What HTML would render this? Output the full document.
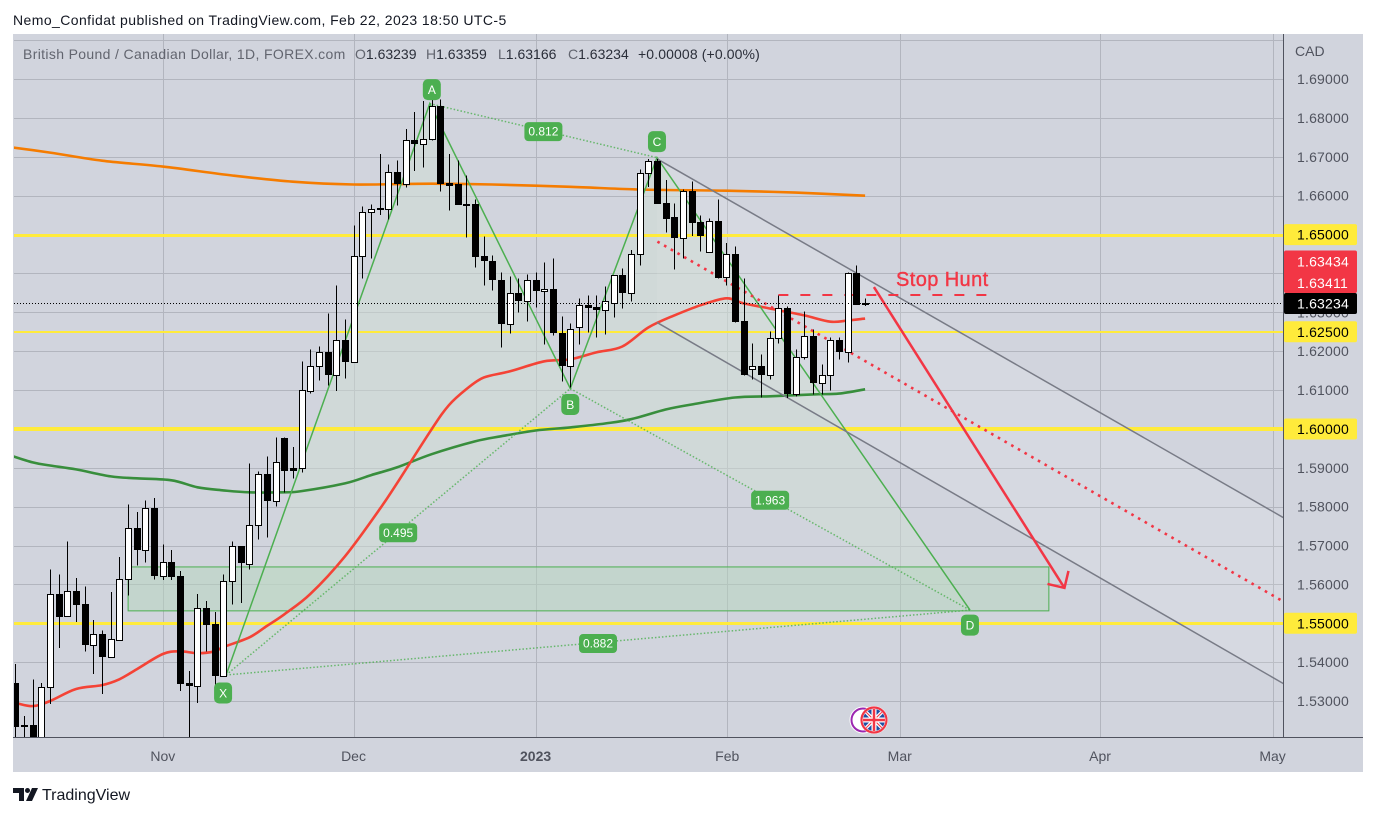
<!DOCTYPE html>
<html lang="en">
<head>
<meta charset="utf-8">
<title>GBPCAD chart</title>
<style>
html,body{margin:0;padding:0;background:#fff;width:1376px;height:816px;overflow:hidden}
svg{display:block;font-family:"Liberation Sans",sans-serif}
</style>
</head>
<body>
<svg id="c" xmlns="http://www.w3.org/2000/svg" width="1376" height="816" viewBox="0 0 1376 816">
  <defs>
    <clipPath id="pane"><rect x="14" y="34" width="1270" height="703"/></clipPath>
    <clipPath id="flagclip"><circle cx="874" cy="720" r="11"/></clipPath>
  </defs>
  <rect x="13" y="34" width="1350" height="738" fill="#d1d4dd"/>
  <text x="13" y="25" font-size="14" fill="#131722" letter-spacing="0.42">Nemo_Confidat published on TradingView.com, Feb 22, 2023 18:50 UTC-5</text>
  <g id="grid"></g>
  <g id="plot" clip-path="url(#pane)"></g>
  <g id="axes"></g>
  <g font-size="14">
    <text x="23" y="59" fill="#62656f" letter-spacing="0.35">British Pound / Canadian Dollar, 1D, FOREX.com</text>
    <text x="355" y="59" fill="#62656f">O<tspan fill="#2a2e39">1.63239</tspan></text>
    <text x="426" y="59" fill="#62656f">H<tspan fill="#2a2e39">1.63359</tspan></text>
    <text x="498" y="59" fill="#62656f">L<tspan fill="#2a2e39">1.63166</tspan></text>
    <text x="568" y="59" fill="#62656f">C<tspan fill="#2a2e39">1.63234</tspan></text>
    <text x="638" y="59" fill="#2a2e39" letter-spacing="0.12">+0.00008 (+0.00%)</text>
  </g>
  <g>
    <circle cx="863" cy="720" r="12.5" fill="#fff" stroke="#fff" stroke-width="2"/>
    <circle cx="863" cy="720" r="11.5" fill="#fff" stroke="#9c27b0" stroke-width="2"/>
    <circle cx="874" cy="720" r="14" fill="#fff"/>
    <g clip-path="url(#flagclip)">
      <rect x="862" y="708" width="24" height="24" fill="#1f4fa3"/>
      <path d="M863 709L885 731M885 709L863 731" stroke="#fff" stroke-width="3.5"/>
      <path d="M863 709L885 731M885 709L863 731" stroke="#f23645" stroke-width="1"/>
      <path d="M874 708V732M862 720H886" stroke="#fff" stroke-width="5"/>
      <path d="M874 708V732M862 720H886" stroke="#f23645" stroke-width="2.5"/>
    </g>
    <circle cx="874" cy="720" r="12.5" fill="none" stroke="#f23645" stroke-width="2.2"/>
  </g>
  <g>
    <path d="M13 788H24V801H19V793H13Z" fill="#131722"/>
    <circle cx="27.5" cy="790.5" r="2.5" fill="#131722"/>
    <path d="M32 788H38L32 801H26Z" fill="#131722"/>
    <text x="42" y="800" font-size="16" fill="#131722">TradingView</text>
  </g>
</svg>
<script>
// ---- candle data (prices, one entry per daily bar)
const opens=[1.5346,1.5238,1.5238,1.5151,1.5336,1.5575,1.5518,1.5583,1.5549,1.5444,
1.5472,1.5413,1.5457,1.5613,1.5744,1.5688,1.5796,1.5621,1.5657,1.5621,
1.5346,1.5338,1.5539,1.5498,1.5364,1.5608,1.5698,1.5652,1.5752,1.5883,
1.5814,1.5978,1.5899,1.5899,1.6097,1.6161,1.6199,1.6138,1.623,1.6171,
1.6446,1.6557,1.6569,1.6567,1.6662,1.6631,1.6744,1.6734,1.6747,1.6832,
1.6634,1.6629,1.658,1.658,1.6446,1.6433,1.6384,1.6271,1.6351,1.633,
1.6384,1.6354,1.6361,1.6248,1.6161,1.6261,1.6318,1.6315,1.6307,1.6325,
1.6395,1.6351,1.6451,1.6659,1.669,1.6582,1.6544,1.6492,1.6611,1.6533,
1.6456,1.6536,1.6392,1.6449,1.6279,1.6153,1.6163,1.614,1.6233,1.6312,
1.6091,1.6186,1.6238,1.6117,1.6138,1.6228,1.6199,1.64,1.63239];
const highs=[1.5395,1.5261,1.5356,1.5346,1.5639,1.5626,1.5711,1.5616,1.5595,1.5508,
1.5482,1.558,1.567,1.5806,1.5786,1.5816,1.5822,1.5703,1.5688,1.5634,
1.5377,1.5575,1.5557,1.5529,1.5626,1.5711,1.5698,1.5911,1.5891,1.5929,
1.5978,1.5978,1.5953,1.6174,1.6204,1.6212,1.6297,1.6369,1.6282,1.6523,
1.6572,1.6577,1.6708,1.668,1.669,1.6772,1.6816,1.6844,1.6852,1.6847,
1.6708,1.669,1.6652,1.659,1.6495,1.6446,1.6402,1.6392,1.6387,1.6397,
1.6402,1.6428,1.6438,1.6289,1.6271,1.6336,1.6343,1.6343,1.6366,1.6395,
1.6413,1.6461,1.6667,1.6695,1.6695,1.6641,1.658,1.6616,1.6636,1.6549,
1.6541,1.659,1.6479,1.6469,1.6387,1.622,1.6192,1.6251,1.6343,1.6315,
1.6204,1.6302,1.6256,1.6166,1.6235,1.6235,1.6402,1.642,1.63359];
const lows=[1.5189,1.5189,1.5125,1.5125,1.5292,1.5436,1.5518,1.5503,1.5428,1.5369,
1.5318,1.5413,1.5454,1.5572,1.5649,1.5657,1.5613,1.5611,1.5611,1.5326,
1.5189,1.5295,1.5428,1.5313,1.5364,1.5549,1.5552,1.5639,1.5716,1.5721,
1.5801,1.5837,1.5873,1.5888,1.6091,1.6125,1.6112,1.6097,1.613,1.6171,
1.6387,1.6438,1.6551,1.6539,1.6575,1.6621,1.6664,1.6672,1.6742,1.6611,
1.6562,1.6577,1.6492,1.6415,1.6369,1.6356,1.621,1.6246,1.63,1.6276,
1.6312,1.6217,1.624,1.6122,1.6107,1.6217,1.6248,1.6235,1.6243,1.6287,
1.631,1.6328,1.642,1.6623,1.658,1.6505,1.641,1.6438,1.6497,1.6456,
1.6456,1.6387,1.6369,1.6274,1.6138,1.6127,1.6081,1.6127,1.622,1.6079,
1.6084,1.6179,1.6089,1.6089,1.6099,1.6179,1.6171,1.632,1.63166];
const closes=[1.5233,1.5233,1.5151,1.5336,1.5575,1.5516,1.5583,1.5547,1.5444,1.5472,
1.5413,1.5459,1.5613,1.5744,1.5688,1.5796,1.5621,1.5657,1.5618,1.5343,
1.5338,1.5539,1.5495,1.5364,1.5608,1.5698,1.5654,1.5752,1.5883,1.5814,
1.5914,1.5893,1.5893,1.6099,1.6161,1.6199,1.6138,1.623,1.6171,1.6446,
1.6557,1.6567,1.6564,1.6662,1.6631,1.6744,1.6734,1.6747,1.6832,1.6631,
1.6626,1.6577,1.6577,1.6443,1.6431,1.6382,1.6271,1.6351,1.633,1.6384,
1.6354,1.6361,1.6246,1.6161,1.6258,1.6318,1.6312,1.6307,1.6328,1.6395,
1.6351,1.6451,1.6659,1.669,1.658,1.6541,1.649,1.6611,1.6531,1.6497,
1.6536,1.6389,1.6449,1.6276,1.6138,1.6163,1.614,1.6233,1.6312,1.6091,
1.6186,1.6238,1.6117,1.6138,1.6228,1.6197,1.64,1.632,1.63234];

// ---- moving averages (sampled bars and prices)
const orangeBars=[-1,4,10,17,25,32,39,48,55,64,72,82,90,98];
const orangeValues=[1.6726,1.6711,1.669,1.6675,1.6652,1.6636,1.6629,1.6631,1.6629,1.6623,1.6616,1.6613,1.6608,1.66];
const greenBars=[-1,2,4,7,11,14,18,21,24,27,31,33,38,41,44,48,53,56,60,64,68,71,75,78,83,87,92,95,98];
const greenValues=[1.5935,1.5914,1.5906,1.5896,1.5878,1.5873,1.5868,1.585,1.5842,1.5837,1.5837,1.584,1.586,1.5881,1.5901,1.5935,1.5968,1.5981,1.5996,1.6004,1.6014,1.6025,1.605,1.6063,1.6081,1.6084,1.6089,1.6091,1.6102];
const redBars=[-1,0,2,4,7,10,12,14,17,19,21,23,24,27,29,31,34,38,42,44,48,50,52,54,57,61,64,67,70,73,76,79,82,84,87,91,94,96,98];
const redValues=[1.5297,1.5295,1.5287,1.53,1.5331,1.5341,1.5356,1.5382,1.5421,1.5428,1.5423,1.5428,1.5439,1.5464,1.5493,1.5523,1.5575,1.5672,1.5793,1.586,1.5999,1.6061,1.6102,1.6132,1.6148,1.6174,1.6179,1.6197,1.6212,1.6261,1.6292,1.6318,1.6336,1.6323,1.631,1.6292,1.6276,1.6279,1.6284];

// ---- axes
const priceTicks=[1.70,1.69,1.68,1.67,1.66,1.65,1.64,1.63,1.62,1.61,1.60,1.59,1.58,1.57,1.56,1.55,1.54,1.53,1.52];
const priceTickLabels=['','1.69000','1.68000','1.67000','1.66000','','','1.63000','1.62000','1.61000','','1.59000','1.58000','1.57000','1.56000','','1.54000','1.53000',''];
const timeTickBars=[17,39,60,82.1,102,125.1,145];
const timeTickLabels=['Nov','Dec','2023','Feb','Mar','Apr','May'];

// ---- horizontal levels
const levelPrices=[1.65,1.625,1.60,1.55];
const levelWidths=[3,2,4,3];
const levelLabels=['1.65000','1.62500','1.60000','1.55000'];

// ---- harmonic XABCD pattern (bar, price)
const patternLetters=['X','A','B','C','D'];
const patternBars=[24.3,47.8,64,74,110.1];
const patternPrices=[1.5367,1.6837,1.6104,1.6698,1.5534];
const ratioLabels=['0.812','0.495','1.963','0.882'];
const ratioFrom=[1,0,2,0];
const ratioTo=[3,2,4,4];

// ---- other drawings (bar, price)
const zoneBars=[13,119.2];
const zonePrices=[1.5645,1.5532];
const channelBars=[74,146.4];
const channelUpper=[1.6695,1.577];
const channelLower=[1.6274,1.5343];
const trendBars=[74.05,146.4];
const trendPrices=[1.6482,1.5554];
const stopBars=[88,112.3];
const stopPrice=1.63434;
const arrowBars=[99,121];
const arrowPrices=[1.6365,1.5591];
const lastPrice=1.63234;
const priceTags=[1.63434,1.63411];
const priceTagLabels=['1.63434','1.63411'];

const xOf=b=>15.4+8.67*b;
const yOf=p=>234.6+(1.65-p)*3887;
const NS='http://www.w3.org/2000/svg';
function mk(tag,attrs,parent){
  const el=document.createElementNS(NS,tag);
  for(const k in attrs)el.setAttribute(k,attrs[k]);
  parent.appendChild(el);
  return el;
}
function poly(b,v){return b.map((d,i)=>xOf(d).toFixed(1)+','+yOf(v[i]).toFixed(1)).join(' ');}
function smooth(b,v){
  const P=b.map((d,i)=>[xOf(d),yOf(v[i])]);
  let s='M'+P[0][0].toFixed(1)+' '+P[0][1].toFixed(1);
  for(let i=0;i<P.length-1;i++){
    const p0=P[Math.max(i-1,0)],p1=P[i],p2=P[i+1],p3=P[Math.min(i+2,P.length-1)];
    const c1x=p1[0]+(p2[0]-p0[0])/6,c1y=p1[1]+(p2[1]-p0[1])/6;
    const c2x=p2[0]-(p3[0]-p1[0])/6,c2y=p2[1]-(p3[1]-p1[1])/6;
    s+='C'+c1x.toFixed(1)+' '+c1y.toFixed(1)+' '+c2x.toFixed(1)+' '+c2y.toFixed(1)+' '+p2[0].toFixed(1)+' '+p2[1].toFixed(1);
  }
  return s;
}
const grid=document.getElementById('grid'),plot=document.getElementById('plot'),axes=document.getElementById('axes');
const GRID='#b2b5be',GREEN='#4caf50',RED='#f23645',YEL='#ffeb3b';
let el;

// grid
priceTicks.forEach(p=>{
  const y=Math.round(yOf(p))+0.5;
  if(y<34||y>737)return;
  el=mk('line',{x1:14,x2:1284,y1:y,y2:y,stroke:GRID,'stroke-width':1},grid);
  
  
});
timeTickBars.forEach(b=>{
  const x=Math.round(xOf(b))+0.5;
  el=mk('line',{x1:x,x2:x,y1:34,y2:737,stroke:GRID,'stroke-width':1},grid);
  
  
});

// channel fill
el=mk('polygon',{points:poly([channelBars[0],channelBars[1],channelBars[1],channelBars[0]],[channelUpper[0],channelUpper[1],channelLower[1],channelLower[0]]),fill:'#ffffff','fill-opacity':0.12},plot);



// pattern fills
el=mk('polygon',{points:poly(patternBars.slice(0,3),patternPrices.slice(0,3)),fill:'#cfded3','fill-opacity':0.5},plot);


el=mk('polygon',{points:poly(patternBars.slice(2,5),patternPrices.slice(2,5)),fill:'#cfded3','fill-opacity':0.5},plot);



// zone
el=mk('rect',{x:xOf(zoneBars[0]),y:yOf(zonePrices[0]),width:xOf(zoneBars[1])-xOf(zoneBars[0]),height:yOf(zonePrices[1])-yOf(zonePrices[0]),fill:'#b5d6bd','fill-opacity':0.5,stroke:GREEN,'stroke-width':1},plot);



// levels
levelPrices.forEach((p,i)=>{
  const w=levelWidths[i],y=Math.round(yOf(p))+(w%2?0.5:0);
  el=mk('line',{x1:14,x2:1284,y1:y,y2:y,stroke:YEL,'stroke-width':w},plot);
  
  
});

// moving averages
el=mk('path',{d:smooth(orangeBars,orangeValues),fill:'none',stroke:'#f57c00','stroke-width':2.6},plot);


el=mk('path',{d:smooth(greenBars,greenValues),fill:'none',stroke:'#388e3c','stroke-width':2.6},plot);


el=mk('path',{d:smooth(redBars,redValues),fill:'none',stroke:'#f44336','stroke-width':2.6},plot);



// pattern legs
el=mk('polyline',{points:poly(patternBars,patternPrices),fill:'none',stroke:GREEN,'stroke-width':1.5},plot);


ratioFrom.forEach((a,i)=>{
  const b=ratioTo[i];
  el=mk('line',{x1:xOf(patternBars[a]),y1:yOf(patternPrices[a]),x2:xOf(patternBars[b]),y2:yOf(patternPrices[b]),stroke:GREEN,'stroke-width':1.5,'stroke-dasharray':'1.5 2','stroke-opacity':0.8},plot);
  
  
});

// channel lines
el=mk('line',{x1:xOf(channelBars[0]),y1:yOf(channelUpper[0]),x2:xOf(channelBars[1]),y2:yOf(channelUpper[1]),stroke:'#787b86','stroke-width':1.5},plot);


el=mk('line',{x1:xOf(channelBars[0]),y1:yOf(channelLower[0]),x2:xOf(channelBars[1]),y2:yOf(channelLower[1]),stroke:'#787b86','stroke-width':1.5},plot);



// red dotted trend
el=mk('line',{x1:xOf(trendBars[0]),y1:yOf(trendPrices[0]),x2:xOf(trendBars[1]),y2:yOf(trendPrices[1]),stroke:RED,'stroke-width':2.6,'stroke-dasharray':'2.6 5.1'},plot);



// stop hunt dashed
el=mk('line',{x1:xOf(stopBars[0]),y1:Math.round(yOf(stopPrice)),x2:xOf(stopBars[1]),y2:Math.round(yOf(stopPrice)),stroke:RED,'stroke-width':2,'stroke-dasharray':'10 12'},plot);



// arrow
el=mk('line',{x1:xOf(arrowBars[0])+0.2,y1:yOf(arrowPrices[0]),x2:xOf(arrowBars[1]),y2:yOf(arrowPrices[1]),stroke:RED,'stroke-width':2.5},plot);


{
  const tx=xOf(arrowBars[1]),ty=yOf(arrowPrices[1]);
  el=mk('polyline',{points:(tx-17)+','+(ty-4)+' '+tx+','+ty+' '+(tx+4)+','+(ty-17),fill:'none',stroke:RED,'stroke-width':2.5},plot);
  
  
}

// candles
closes.forEach((c,i)=>{
  const o=opens[i],cx=Math.round(xOf(i)),up=c>=o;
  const top=Math.round(yOf(Math.max(o,c))),bot=Math.round(yOf(Math.min(o,c)));
  const g=mk('g',{},plot);
  
  
  el=mk('rect',{x:cx,y:yOf(highs[i]),width:1,height:yOf(lows[i])-yOf(highs[i]),fill:'#000','shape-rendering':'crispEdges'},g);
  
  
  if(up){
    el=mk('rect',{x:cx-2.5,y:top+0.5,width:6,height:Math.max(bot-top,1),fill:'#fff',stroke:'#000','stroke-width':1,'shape-rendering':'crispEdges'},g);
  }else{
    el=mk('rect',{x:cx-3,y:top,width:7,height:Math.max(bot-top,2),fill:'#000','shape-rendering':'crispEdges'},g);
  }
  
  
});

// last price dotted line
el=mk('line',{x1:14,x2:1284,y1:Math.round(yOf(lastPrice))+0.5,y2:Math.round(yOf(lastPrice))+0.5,stroke:'#000','stroke-width':1,'stroke-dasharray':'1 2'},plot);



// badges
const letterDX=[-3,2,0,0,0],letterDY=[18,-14,16,-16,15];
patternLetters.forEach((t,i)=>{
  const x=xOf(patternBars[i])+letterDX[i],y=yOf(patternPrices[i])+letterDY[i];
  const g=mk('g',{},plot);
  
  
  el=mk('rect',{x:x-9,y:y-10.5,width:18,height:21,rx:5,fill:GREEN},g);
  
  
  el=mk('text',{x:x,y:y+4.5,'text-anchor':'middle','font-size':12,fill:'#fff'},g);
  
  
  el.textContent=t;
});
ratioLabels.forEach((t,i)=>{
  const a=ratioFrom[i],b=ratioTo[i];
  const x=(xOf(patternBars[a])+xOf(patternBars[b]))/2,y=(yOf(patternPrices[a])+yOf(patternPrices[b]))/2+1;
  const g=mk('g',{},plot);
  
  
  el=mk('rect',{x:x-19,y:y-9.5,width:38,height:19,rx:4,fill:GREEN},g);
  
  
  el=mk('text',{x:x,y:y+4,'text-anchor':'middle','font-size':12,fill:'#fff'},g);
  
  
  el.textContent=t;
});

// stop hunt text
el=mk('text',{x:896,y:286,'font-size':20,fill:RED,stroke:RED,'stroke-width':0.4,'letter-spacing':0.4},plot);


el.textContent='Stop Hunt';

// axis lines
el=mk('line',{x1:13,x2:1363,y1:737.5,y2:737.5,stroke:'#50535e','stroke-width':1},axes);


el=mk('line',{x1:1283.5,x2:1283.5,y1:34,y2:737,stroke:'#50535e','stroke-width':1},axes);



// currency
el=mk('text',{x:1295,y:56,'font-size':14,fill:'#50535e'},axes);


el.textContent='CAD';

// price tick labels
priceTicks.forEach((p,i)=>{
  if(!priceTickLabels[i])return;
  el=mk('text',{x:1297,y:yOf(p)+5,'font-size':14,fill:'#50535e','letter-spacing':0.2},axes);
  
  
  el.textContent=priceTickLabels[i];
});

// time tick labels
timeTickBars.forEach((b,i)=>{
  el=mk('text',{x:xOf(b),y:761,'font-size':14,fill:'#50535e','text-anchor':'middle','font-weight':timeTickLabels[i]==='2023'?'bold':'normal'},axes);
  
  
  el.textContent=timeTickLabels[i];
});

// level tags
levelPrices.forEach((p,i)=>{
  const y=yOf(p);
  el=mk('rect',{x:1284,y:y-10.5,width:73,height:21,rx:2,fill:YEL},axes);
  
  
  el=mk('text',{x:1297,y:y+5,'font-size':14,fill:'#000','letter-spacing':0.2},axes);
  
  
  el.textContent=levelLabels[i];
});

// red tags
el=mk('rect',{x:1284,y:yOf(priceTags[0])-45,width:73,height:42.5,rx:2,fill:RED},axes);


priceTagLabels.forEach((t,i)=>{
  el=mk('text',{x:1297,y:yOf(priceTags[0])-34+i*21.5+5,'font-size':14,fill:'#fff','letter-spacing':0.2},axes);
  
  
  el.textContent=t;
});

// last price tag
el=mk('rect',{x:1284,y:293,width:73,height:21,rx:2,fill:'#000'},axes);


el=mk('text',{x:1297,y:308.5,'font-size':14,fill:'#fff','letter-spacing':0.2},axes);


el.textContent=lastPrice.toFixed(5);
</script>
</body>
</html>
